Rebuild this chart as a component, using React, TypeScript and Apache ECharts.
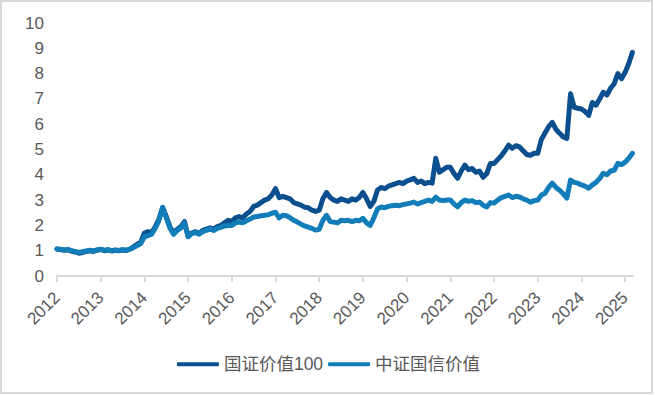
import React, { useEffect, useRef } from "react";
import * as echarts from "echarts";

const seriesNames = ["国证价值100", "中证国信价值"];
const startYear = 2012;
const endYear = 2025.18;
const yearTicks = [2012, 2013, 2014, 2015, 2016, 2017, 2018, 2019, 2020, 2021, 2022, 2023, 2024, 2025];
const yTicks = [0, 1, 2, 3, 4, 5, 6, 7, 8, 9, 10];

// monthly values, Jan 2012 .. Mar 2025
const value100 = [
  1.07, 1.05, 1.02, 1.04, 0.98, 0.95, 0.9, 0.93, 0.97, 1.0, 0.97, 1.02,
  1.05, 1.0, 1.03, 0.99, 1.02, 1.0, 1.03, 1.01, 1.06, 1.15, 1.25, 1.35,
  1.7, 1.75, 1.72, 1.95, 2.25, 2.7, 2.35, 1.95, 1.7, 1.85, 1.95, 2.15,
  1.58, 1.7, 1.75, 1.68, 1.8, 1.85, 1.9, 1.85, 1.95, 2.0, 2.1, 2.2,
  2.15, 2.3, 2.35, 2.3, 2.45, 2.55, 2.75, 2.8, 2.9, 3.0, 3.05, 3.2,
  3.45, 3.1, 3.15, 3.1, 3.05, 2.9, 2.85, 2.8, 2.72, 2.7, 2.6, 2.55,
  2.6, 3.05, 3.3, 3.1, 3.0, 2.95, 3.05, 3.0, 2.95, 3.05, 3.0, 3.1,
  3.3, 3.05, 2.75, 2.95, 3.4, 3.5, 3.45, 3.55, 3.6, 3.65, 3.7, 3.65,
  3.75, 3.8, 3.86, 3.7, 3.75, 3.65, 3.7, 3.67, 4.65, 4.1, 4.2, 4.3,
  4.3, 4.05, 3.86, 4.15, 4.38, 4.2, 4.25, 4.1, 4.15, 3.9, 4.05, 4.45,
  4.45, 4.6, 4.75, 4.95, 5.17, 5.05, 5.15, 5.1, 4.95, 4.8, 4.77, 4.85,
  4.85, 5.4, 5.65, 5.9, 6.07, 5.8, 5.64, 5.5, 5.44, 7.2, 6.67, 6.63,
  6.6, 6.5, 6.35, 6.86, 6.75, 7.0, 7.26, 7.15, 7.42, 7.6, 8.0, 7.8,
  8.05, 8.4, 8.84,
];

const valueGuoxin = [
  1.07, 1.05, 1.03, 1.05, 1.0, 0.97, 0.93, 0.96, 0.99, 1.02, 0.99, 1.03,
  1.06, 1.02, 1.04, 1.0, 1.03, 1.01, 1.04, 1.02, 1.06, 1.12, 1.2, 1.28,
  1.55, 1.6, 1.65, 1.9, 2.2, 2.72, 2.3, 1.9, 1.65, 1.8, 1.9, 2.1,
  1.55, 1.68, 1.72, 1.65, 1.75, 1.8, 1.85, 1.8, 1.88, 1.92, 1.98, 2.0,
  2.0, 2.1, 2.13, 2.1, 2.18, 2.25, 2.33, 2.35, 2.38, 2.4, 2.42, 2.48,
  2.52, 2.3, 2.4, 2.38, 2.3, 2.2, 2.13, 2.05, 1.98, 1.93, 1.88, 1.82,
  1.85, 2.2, 2.4, 2.15, 2.13, 2.1, 2.2, 2.18, 2.2, 2.15, 2.2, 2.18,
  2.28, 2.1, 2.0, 2.3, 2.65, 2.73, 2.7, 2.75, 2.78, 2.8, 2.78, 2.82,
  2.85, 2.88, 2.92, 2.85, 2.9, 2.95, 3.0, 2.95, 3.12, 3.0, 2.98, 3.0,
  3.0, 2.85, 2.73, 2.9, 3.0, 2.95, 2.98, 2.9, 2.92, 2.8, 2.73, 2.9,
  2.88, 3.0, 3.1, 3.15, 3.2, 3.1, 3.15, 3.12, 3.05, 3.0, 2.92, 2.98,
  3.0, 3.2, 3.27, 3.5, 3.67, 3.5, 3.39, 3.25, 3.08, 3.79, 3.7, 3.67,
  3.6, 3.55, 3.47, 3.6, 3.7, 3.85, 4.06, 4.0, 4.15, 4.18, 4.45, 4.4,
  4.5, 4.65, 4.85,
];

const colors = ["#0B4F8E", "#127DB9"];
const FONT = "'Liberation Sans', Arial, 'Noto Sans CJK SC', sans-serif";

const toPoints = (vals: number[]) => vals.map((v, i) => [startYear + i / 12, v]);

export default function App() {
  const ref = useRef<HTMLDivElement>(null);
  useEffect(() => {
    if (!ref.current) return;
    const chart = echarts.init(ref.current, undefined, { renderer: "svg" });
    chart.setOption({
      animation: false,
      backgroundColor: "#ffffff",
      textStyle: { fontFamily: FONT },
      grid: { left: 57, right: 24, top: 23, bottom: 119, containLabel: false },
      legend: {
        data: seriesNames,
        bottom: 17,
        left: "center",
        icon: "roundRect",
        itemWidth: 42,
        itemHeight: 4,
        itemGap: 5,
        textStyle: { fontSize: 17.5, color: "#595959", fontFamily: FONT },
      },
      xAxis: {
        type: "value",
        min: startYear,
        max: endYear,
        axisLine: { show: true, lineStyle: { color: "#d9d9d9", width: 2 } },
        axisTick: {
          show: true,
          length: 6,
          lineStyle: { color: "#d9d9d9", width: 2 },
          customValues: yearTicks,
        },
        axisLabel: {
          customValues: yearTicks,
          rotate: 45,
          margin: 19,
          fontSize: 17,
          color: "#595959",
          fontFamily: FONT,
          formatter: (v: number) => String(Math.round(v)),
        },
        splitLine: { show: false },
      },
      yAxis: {
        type: "value",
        min: 0,
        max: 10,
        interval: 1,
        axisLine: { show: false },
        axisTick: { show: false },
        splitLine: { show: false },
        axisLabel: {
          margin: 13,
          fontSize: 17,
          color: "#595959",
          fontFamily: FONT,
          customValues: yTicks,
        },
      },
      series: [
        {
          name: seriesNames[0],
          type: "line",
          data: toPoints(value100),
          symbol: "none",
          lineStyle: { color: colors[0], width: 5, cap: "round", join: "round" },
          itemStyle: { color: colors[0] },
        },
        {
          name: seriesNames[1],
          type: "line",
          data: toPoints(valueGuoxin),
          symbol: "none",
          lineStyle: { color: colors[1], width: 5, cap: "round", join: "round" },
          itemStyle: { color: colors[1] },
        },
      ],
    });
    return () => chart.dispose();
  }, []);
  return (
    <div style={{ position: "fixed", left: 0, top: 0, width: 657, height: 395, background: "#fff" }}>
      <div ref={ref} style={{ position: "absolute", left: 0, top: 0, width: 657, height: 395 }} />
      <div
        style={{
          position: "absolute",
          left: 0,
          top: 0,
          width: 653,
          height: 394,
          boxSizing: "border-box",
          border: "2px solid #d9d9d9",
          pointerEvents: "none",
        }}
      />
    </div>
  );
}
